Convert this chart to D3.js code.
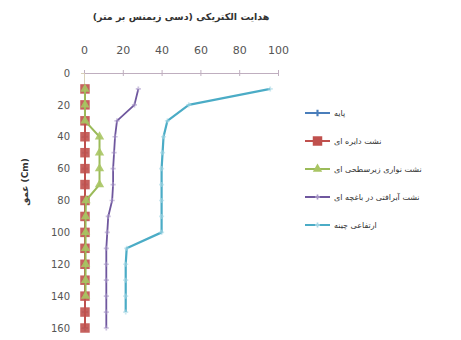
<!DOCTYPE html>
<html>
<head>
<meta charset="utf-8">
<script src="https://cdn.jsdelivr.net/npm/d3@7"></script>
<style>
  html, body { margin: 0; padding: 0; background: #fff; }
  svg { display: block; }
  text { font-family: "DejaVu Sans", "Liberation Sans", sans-serif; }
</style>
</head>
<body>
<svg id="chart" width="461" height="340"></svg>
<script>
// Soil depth (cm) sampled every 10 cm
const depths = [10, 20, 30, 40, 50, 60, 70, 80, 90, 100, 110, 120, 130, 140, 150, 160];

// Electrical conductivity (dS/m) per treatment, by depth
const basePlot   = [0.5, 0.5, 0.5, 0.5, 0.5, 0.5, 0.5, 0.5, 0.5, 0.5, 0.5, 0.5, 0.5, 0.5, 0.5, 0.5];
const seriesRed  = [0.5, 0.5, 0.5, 0.5, 0.5, 0.5, 0.5, 0.5, 0.5, 0.5, 0.5, 0.5, 0.5, 0.5, 0.5, 0.5];
const seriesGrn  = [0.5, 0.5, 0.5, 8, 8, 8, 8, 1, 0.8, 0.8, 0.8, 0.8, 0.8, 0.8];
const seriesPur  = [28, 26, 17, 16, 15.5, 15, 15, 14.5, 12.5, 12, 11.5, 11.5, 11.5, 11.5, 11.5, 11.5];
const seriesCyan = [96, 54, 43, 41, 40.5, 40, 40, 40, 40, 40, 22, 21.5, 21.5, 21.5, 21.5];

const xTicks = [0, 20, 40, 60, 80, 100];
const yTicks = [0, 20, 40, 60, 80, 100, 120, 140, 160];

const titleText = "هدایت الکتریکی (دسی زیمنس بر متر)";
const yLabelText = "عمق (Cm)";
const seriesNames = [
  "پایه",
  "نشت دایره ای",
  "نشت نواری زیرسطحی ای",
  "نشت آبرافتی در باغچه ای",
  "ارتفاعی چینه"
];

const series = [
  { name: seriesNames[0], values: basePlot,   line: "#4a7ebb", fill: "#4a7ebb", marker: "cross",    size: 5, width: 2 },
  { name: seriesNames[1], values: seriesRed,  line: "#c0504d", fill: "#c0504d", marker: "square",   size: 10, width: 2 },
  { name: seriesNames[2], values: seriesGrn,  line: "#9bbb59", fill: "#a9c563", marker: "triangle", size: 6.5, width: 2 },
  { name: seriesNames[3], values: seriesPur,  line: "#6f579e", fill: "#a898c8", marker: "cross",    size: 4, width: 1.8 },
  { name: seriesNames[4], values: seriesCyan, line: "#4bacc6", fill: "#a9d8e6", marker: "cross",    size: 4, width: 2.2 }
];

const svg = d3.select("#chart");

const x = d3.scaleLinear().domain([0, 100]).range([84, 278]);
const y = d3.scaleLinear().domain([0, 160]).range([73, 328]);

// Title
svg.append("text")
  .attr("x", 181).attr("y", 20)
  .attr("text-anchor", "middle")
  .attr("font-size", 9.5).attr("font-weight", "bold")
  .attr("fill", "#333")
  .text(titleText);

// Top x axis
const xAxis = d3.axisTop(x).tickValues(xTicks).tickSize(3).tickPadding(16);
const gx = svg.append("g").attr("transform", `translate(0,${y(0)})`).call(xAxis);
gx.select(".domain").attr("stroke", "#bfaebf");
gx.selectAll(".tick line").attr("stroke", "#bfaebf").attr("y2", 3).attr("y1", -3);
gx.selectAll(".tick text").attr("font-size", 11).attr("fill", "#555")
  .attr("font-family", "Liberation Sans, sans-serif");

// Left y axis
const yAxis = d3.axisLeft(y).tickValues(yTicks).tickSize(3).tickPadding(11);
const gy = svg.append("g").attr("transform", `translate(${x(0)},0)`).call(yAxis);
gy.select(".domain").attr("stroke", "#d8d0b8");
gy.selectAll(".tick line").attr("stroke", "#d8d0b8");
gy.selectAll(".tick text").attr("font-size", 10).attr("fill", "#555")
  .attr("font-family", "Liberation Sans, sans-serif");

// Y axis title
svg.append("text")
  .attr("transform", "translate(28,182) rotate(-90)")
  .attr("text-anchor", "middle")
  .attr("font-size", 9).attr("font-weight", "bold")
  .attr("fill", "#333")
  .text(yLabelText);

const symbolFor = (m, s) => {
  const types = { diamond: d3.symbolDiamond, square: d3.symbolSquare, triangle: d3.symbolTriangle, cross: d3.symbolCross };
  return d3.symbol().type(types[m]).size(s * s * 0.9)();
};

const lineGen = d3.line().x(d => x(d.v)).y(d => y(d.d));

series.forEach(s => {
  const pts = s.values.map((v, i) => ({ v, d: depths[i] }));
  const g = svg.append("g");
  g.append("path")
    .datum(pts)
    .attr("d", lineGen)
    .attr("fill", "none")
    .attr("stroke", s.line)
    .attr("stroke-width", s.width)
    .attr("stroke-linejoin", "round");
  g.selectAll("path.m")
    .data(pts)
    .join("path")
    .attr("class", "m")
    .attr("transform", d => `translate(${x(d.v)},${y(d.d)})`)
    .attr("d", symbolFor(s.marker, s.size))
    .attr("fill", s.fill)
    .attr("fill-opacity", s.marker === "cross" ? 0.6 : 0.9);
});

// Legend
const legend = svg.append("g");
series.forEach((s, i) => {
  const ly = 113 + i * 28;
  legend.append("line")
    .attr("x1", 305).attr("x2", 330).attr("y1", ly).attr("y2", ly)
    .attr("stroke", s.line).attr("stroke-width", 2);
  legend.append("path")
    .attr("transform", `translate(317.5,${ly})`)
    .attr("d", symbolFor(s.marker, s.size))
    .attr("fill", s.fill);
  legend.append("text")
    .attr("x", 334).attr("y", ly + 3)
    .attr("font-size", 8)
    .attr("fill", "#333")
    .text(s.name);
});
</script>
</body>
</html>
